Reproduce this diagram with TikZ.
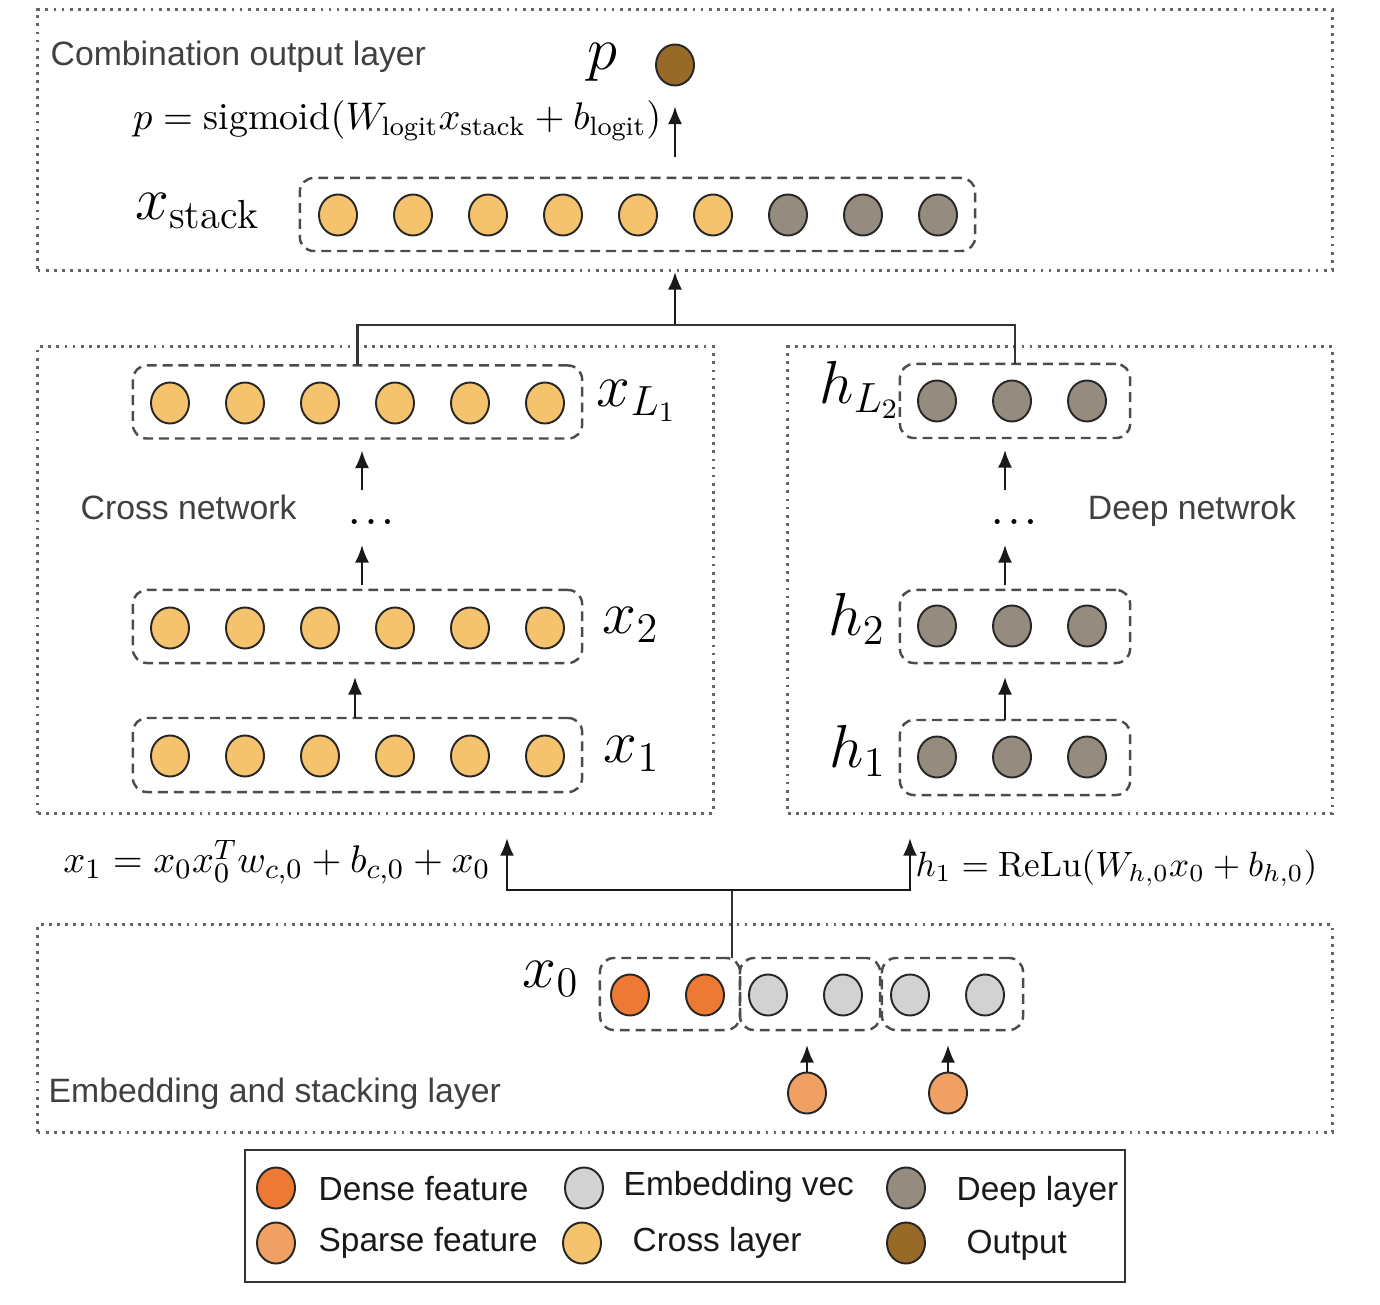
\documentclass[tikz,border=0pt]{standalone}
\usepackage{fontspec}
\setsansfont{Liberation Sans}
\usetikzlibrary{arrows.meta,shapes.geometric}
\definecolor{crossc}{RGB}{245,195,110}
\definecolor{deepc}{RGB}{150,139,127}
\definecolor{outc}{RGB}{151,106,40}
\definecolor{densec}{RGB}{236,122,52}
\definecolor{sparsec}{RGB}{240,160,98}
\definecolor{embc}{RGB}{210,210,210}
\tikzset{
  unit/.style={ellipse, draw=black!85, line width=0.55pt, minimum width=0.38cm, minimum height=0.41cm, inner sep=0pt},
  crossu/.style={unit, fill=crossc},
  deepu/.style={unit, fill=deepc},
  outu/.style={unit, fill=outc},
  denseu/.style={unit, fill=densec},
  sparseu/.style={unit, fill=sparsec},
  embu/.style={unit, fill=embc},
  grp/.style={draw=black!70, line width=0.7pt, dash pattern=on 2.8pt off 1.7pt, rounded corners=0.14cm, inner sep=0pt, outer sep=0pt},
  layerbox/.style={draw=black!60, line width=0.85pt, dash pattern=on 0.8pt off 1.5pt, inner sep=0pt, outer sep=0pt},
  arr/.style={-{Latex[length=5pt,width=4pt]}, line width=0.6pt, draw=black!90},
  link/.style={line width=0.65pt, draw=black!80},
  lbl/.style={font=\fontsize{16.5}{19}\selectfont, inner sep=0pt},
  eq/.style={font=\fontsize{10.8}{13}\selectfont, inner sep=0pt},
  eqs/.style={font=\fontsize{10}{12}\selectfont, inner sep=0pt},
  dotsl/.style={font=\fontsize{9.5}{11}\selectfont\boldmath, inner sep=0pt},
  txt/.style={font=\sffamily\fontsize{9.6}{11}\selectfont, text=black!75, inner sep=0pt},
  legtxt/.style={font=\sffamily\fontsize{9.5}{11}\selectfont, text=black!90, inner sep=0pt, anchor=west},
}
\begin{document}
\begin{tikzpicture}[x=0.01cm, y=-0.01cm]
\useasboundingbox (0,0) rectangle (1380,1304);

% ---------- layer boxes ----------
\node[layerbox, minimum width=12.94cm, minimum height=2.60cm] (combo) at (685,140) {};
\node[layerbox, minimum width=6.75cm, minimum height=4.66cm] (crossnet) at (375.5,580) {};
\node[layerbox, minimum width=5.44cm, minimum height=4.66cm] (deepnet) at (1060,580) {};
\node[layerbox, minimum width=12.94cm, minimum height=2.07cm] (embed) at (685,1028.5) {};

% ---------- combination output layer ----------
\node[txt, anchor=west] (combotxt) at (50,57) {Combination output layer};
\node[lbl] (plbl) at (602,62) {$p$};
\node[outu] (out) at (675,65) {};
\node[eq, anchor=east] (peq) at (662,121) {$p = \mathrm{sigmoid}(W_{\mathrm{logit}}x_{\mathrm{stack}} + b_{\mathrm{logit}})$};
\node[lbl] (xstack) at (198,211) {$x_{\mathrm{stack}}$};
\node[grp, minimum width=6.75cm, minimum height=0.73cm] (stackbox) at (637.5,214.5) {};
\foreach \i in {0,...,5} \node[crossu] (s\i) at ({338+75*\i},215) {};
\foreach \i in {6,7,8} \node[deepu] (s\i) at ({338+75*\i},215) {};
\draw[arr, shorten <=0.21cm, shorten >=0.2cm] (stackbox.north -| out) -- (out.south);

% ---------- cross network ----------
\node[txt, anchor=west] (crosstxt) at (80,507) {Cross network};
\node[grp, minimum width=4.49cm, minimum height=0.73cm] (xLbox) at (357.5,402) {};
\node[grp, minimum width=4.49cm, minimum height=0.73cm] (x2box) at (357.5,626.5) {};
\node[grp, minimum width=4.49cm, minimum height=0.74cm] (x1box) at (357.5,755) {};
\foreach \i in {0,...,5} {
  \node[crossu] (cL\i) at ({170+75*\i},403) {};
  \node[crossu] (c2\i) at ({170+75*\i},628) {};
  \node[crossu] (c1\i) at ({170+75*\i},756) {};
}
\node[lbl] (xLlbl) at (637,401) {$x_{L_1}$};
\node[lbl] (x2lbl) at (631,625) {$x_2$};
\node[lbl] (x1lbl) at (632,754) {$x_1$};
\node[dotsl] (cdots) at (371,522) {$\ldots$};
\coordinate (ca) at (362,0);
\coordinate (cb) at (355,0);
\draw[arr, shorten <=0.05cm, shorten >=0.23cm] (x2box.north -| ca) -- (ca |- cdots.center);
\draw[arr, shorten <=0.32cm, shorten >=0.12cm] (ca |- cdots.center) -- (xLbox.south -| ca);
\draw[arr, shorten >=0.14cm] (x1box.north -| cb) -- (x2box.south -| cb);

% ---------- deep network ----------
\node[txt] (deeptxt) at (1192,511) {Deep netwrok};
\node[grp, minimum width=2.30cm, minimum height=0.74cm] (hLbox) at (1015,401) {};
\node[grp, minimum width=2.30cm, minimum height=0.73cm] (h2box) at (1015,626.5) {};
\node[grp, minimum width=2.30cm, minimum height=0.75cm] (h1box) at (1015,757.5) {};
\foreach \i in {0,1,2} {
  \node[deepu] (dL\i) at ({937+75*\i},401) {};
  \node[deepu] (d2\i) at ({937+75*\i},626) {};
  \node[deepu] (d1\i) at ({937+75*\i},757) {};
}
\node[lbl] (hLlbl) at (860,390) {$h_{L_2}$};
\node[lbl] (h2lbl) at (857,619) {$h_2$};
\node[lbl] (h1lbl) at (858,751) {$h_1$};
\node[dotsl] (ddots) at (1014,522) {$\ldots$};
\coordinate (da) at (1005,0);
\draw[arr, shorten <=0.05cm, shorten >=0.23cm] (h2box.north -| da) -- (da |- ddots.center);
\draw[arr, shorten <=0.32cm, shorten >=0.12cm] (da |- ddots.center) -- (hLbox.south -| da);
\draw[arr, shorten >=0.14cm] (h1box.north -| da) -- (h2box.south -| da);

% ---------- stack -> networks ----------
\coordinate (j1) at (675,325);
\draw[arr, shorten >=0.21cm] (j1) -- (stackbox.south -| j1);
\draw[link] (xLbox.north) |- (j1) -| (hLbox.north);

% ---------- embedding and stacking layer ----------
\node[txt, anchor=west] (embtxt) at (48,1094) {Embedding and stacking layer};
\node[lbl] (x0lbl) at (551,979) {$x_0$};
\node[grp, minimum width=1.40cm, minimum height=0.72cm] (densebox) at (670,994) {};
\node[grp, minimum width=1.40cm, minimum height=0.72cm] (emb1box) at (810,994) {};
\node[grp, minimum width=1.41cm, minimum height=0.72cm] (emb2box) at (952.5,994) {};
\node[denseu] (dn0) at (630,995) {};
\node[denseu] (dn1) at (705,995) {};
\node[embu] (e10) at (768,995) {};
\node[embu] (e11) at (843,995) {};
\node[embu] (e20) at (910,995) {};
\node[embu] (e21) at (985,995) {};
\node[sparseu] (sp1) at (807,1093) {};
\node[sparseu] (sp2) at (948,1093) {};
\draw[arr, shorten >=0.15cm] (sp1) -- (sp1 |- emb1box.south);
\draw[arr, shorten >=0.15cm] (sp2) -- (sp2 |- emb2box.south);

% ---------- x0 -> networks ----------
\coordinate (j2) at (732,890);
\coordinate (cl) at (507,0);
\coordinate (dl) at (910,0);
\draw[link] (densebox.north -| j2) -- (j2);
\draw[arr, shorten >=0.25cm] (j2) -| (cl |- crossnet.south);
\draw[arr, shorten >=0.25cm] (j2) -| (dl |- deepnet.south);
\node[eq, anchor=east] (x1eq) at (491,862) {$x_1 = x_0x_0^T w_{c,0} + b_{c,0} + x_0$};
\node[eqs, anchor=west] (h1eq) at (915,868) {$h_1 = \mathrm{ReLu}(W_{h,0}x_0 + b_{h,0})$};

% ---------- legend ----------
\node[draw=black!80, line width=0.55pt, minimum width=8.80cm, minimum height=1.32cm, inner sep=0pt] (legend) at (685,1216) {};
\node[denseu] (lg1) at (276,1188) {};
\node[legtxt] (lt1) at (318,1189) {Dense feature};
\node[embu] (lg2) at (584,1188) {};
\node[legtxt] (lt2) at (623,1187) {Embedding vec};
\node[deepu] (lg3) at (906,1188) {};
\node[legtxt] (lt3) at (956,1192) {Deep layer};
\node[sparseu] (lg4) at (276,1243) {};
\node[legtxt] (lt4) at (318,1243) {Sparse feature};
\node[crossu] (lg5) at (582,1243) {};
\node[legtxt] (lt5) at (632,1243) {Cross layer};
\node[outu] (lg6) at (906,1243) {};
\node[legtxt] (lt6) at (966,1245) {Output};
\end{tikzpicture}
\end{document}
